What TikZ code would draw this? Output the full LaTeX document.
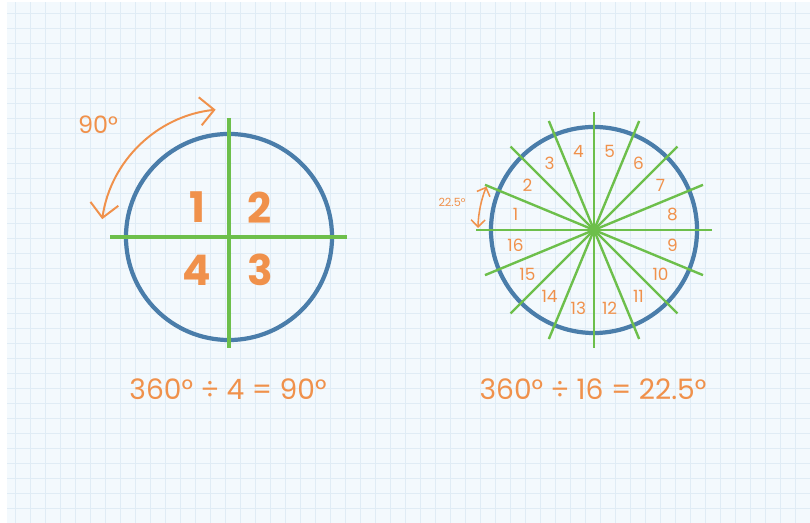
\documentclass[tikz,border=0pt]{standalone}
\usepackage{fontspec}
\setmainfont{Poppins}
\usetikzlibrary{arrows.meta, positioning, calc}
\definecolor{bluecerchio}{HTML}{4A7DAA}
\definecolor{verderaggio}{HTML}{6DBF4B}
\definecolor{arancio}{HTML}{F0914B}
\definecolor{fondo}{HTML}{F3F9FD}
\definecolor{quadretti}{HTML}{E0ECF5}

\begin{document}
\begin{tikzpicture}[
  x=0.025cm, y=0.025cm,
  cerchio/.style={circle, draw=bluecerchio, line width=3pt, inner sep=0pt,
                  minimum size=5.15cm},
  asse/.style={draw=verderaggio, line width=2.2pt},
  raggio/.style={draw=verderaggio, line width=1.7pt},
  quarto/.style={text=arancio, font=\fontsize{30}{36}\selectfont\bfseries},
  spicchio/.style={text=arancio, font=\fontsize{12}{14}\selectfont},
  formula/.style={text=arancio, font=\fontsize{20}{24}\selectfont},
  freccia/.style={draw=arancio, line width=1.4pt,
                  {Straight Barb[length=10pt, width=20pt]}-{Straight Barb[length=10pt, width=20pt]}}
]

% ---- foglio a quadretti --------------------------------------------
\useasboundingbox (0,0) rectangle (810,523);
\fill[white] (0,0) rectangle (810,523);
\fill[fondo] (7,0) rectangle (810,521);
\draw[quadretti, line width=0.5pt, step=15] (7,0) grid (810,521);

% ---- cerchio diviso in 4 -------------------------------------------
\node[cerchio] (c1) at (229,286) {};
\coordinate (su1)  at (229,405);
\coordinate (giu1) at (229,175);
\coordinate (sx1)  at (110,286);
\coordinate (dx1)  at (347,286);
\draw[asse] (su1) -- (giu1);
\draw[asse] (sx1) -- (dx1);

\node[quarto] (q1) at ([shift={(-32,30)}]c1.center) {1};
\node[quarto] (q2) at ([shift={(31,29)}]c1.center)  {2};
\node[quarto] (q4) at ([shift={(-32,-33)}]c1.center) {4};
\node[quarto] (q3) at ([shift={(31,-33)}]c1.center) {3};

% arco del quarto di giro
\draw[freccia] ([shift={(96:128)}]c1.center) arc[start angle=96, end angle=172, radius=128];
\node[text=arancio, font=\fontsize{17}{20}\selectfont] (gradi90) at (98,398) {90°};

% ---- cerchio diviso in 16 ------------------------------------------
\node[cerchio] (c2) at (594,293) {};
\foreach \a in {0,22.5,...,157.5}
  \draw[raggio] ([shift={(\a:118)}]c2.center) -- ([shift={(\a+180:118)}]c2.center);
\fill[verderaggio] (c2.center) circle[radius=6];

\foreach \k [evaluate=\k as \ang using 191.25-22.5*\k] in {1,...,16}
  \node[spicchio] (s\k) at ([shift={(\ang:80)}]c2.center) {\k};

% ampiezza di uno spicchio
\draw[freccia, line width=1.1pt,
      {Straight Barb[length=5pt, width=10pt]}-{Straight Barb[length=5pt, width=10pt]}]
  ([shift={(158:116)}]c2.center) arc[start angle=158, end angle=179, radius=116];
\node[text=arancio, font=\fontsize{8}{10}\selectfont] (gradi225) at (452,321) {22.5°};

% ---- formule -------------------------------------------------------
\node[formula] (f1) at (228,134) {360° ÷ 4 = 90°};
\node[formula] (f2) at (593,134) {360° ÷ 16 = 22.5°};

\end{tikzpicture}
\end{document}
